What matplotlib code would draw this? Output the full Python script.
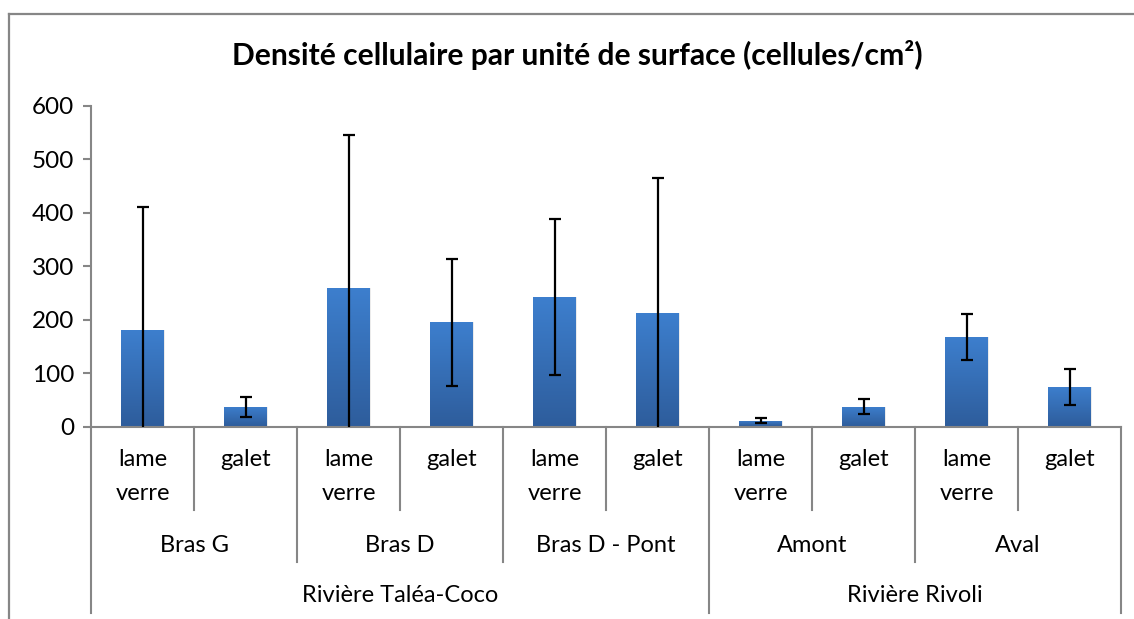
import numpy as np
import matplotlib
matplotlib.use("Agg")
import matplotlib.pyplot as plt
from matplotlib.patches import Rectangle
from matplotlib.lines import Line2D
from matplotlib.colors import LinearSegmentedColormap
from matplotlib.transforms import blended_transform_factory

plt.rcParams['font.family'] = ['Lato', 'DejaVu Sans']

# Data
supports = ["lame\nverre", "galet"] * 5
stations = ["Bras G", "Bras D", "Bras D - Pont", "Amont", "Aval"]
rivers = ["Rivière Taléa-Coco", "Rivière Rivoli"]
stations_per_river = [3, 2]
densite = [180, 37, 260, 195, 242, 213, 11, 37, 167, 74]
erreur = [231, 19, 285, 119, 146, 253, 4, 14, 43, 33]
title = "Densité cellulaire par unité de surface (cellules/cm²)"
yticks = [0, 100, 200, 300, 400, 500, 600]

W, H = 1134, 619
fig = plt.figure(figsize=(W / 100, H / 100), dpi=100)

def fy(py):
    return (H - py) / H

ax_left, ax_right = 91, 1121
ax_top, ax_bottom = 106, 426.5
ax = fig.add_axes([ax_left / W, fy(ax_bottom), (ax_right - ax_left) / W,
                   (ax_bottom - ax_top) / H])

grey = "#868686"
n = len(densite)
x = np.arange(n)

# Bars with vertical gradient
cmap = LinearSegmentedColormap.from_list("bar", ["#2E5D9C", "#3D7FCE"])
grad = np.linspace(0, 1, 256).reshape(-1, 1)
bar_w = 0.41
for xi, v in zip(x, densite):
    sh = Rectangle((xi - bar_w / 2 + 0.015, 0), bar_w, v, facecolor="#000000",
                   alpha=0.08, edgecolor="none", zorder=1)
    ax.add_patch(sh)
    rect = Rectangle((xi - bar_w / 2, 0), bar_w, v, facecolor="none",
                     edgecolor="none", zorder=2)
    ax.add_patch(rect)
    im = ax.imshow(grad, cmap=cmap, origin="lower", aspect="auto",
                   extent=(xi - bar_w / 2, xi + bar_w / 2, 0, v), zorder=2)
    im.set_clip_path(rect)

ax.set_xlim(-0.5, n - 0.5)
ax.set_ylim(0, 600)

ax.errorbar(x, densite, yerr=erreur, fmt="none", ecolor="black",
            elinewidth=1.6, capsize=4.3, capthick=1.6, zorder=3)

# Axes styling
for s in ["top", "right"]:
    ax.spines[s].set_visible(False)
for s in ["left", "bottom"]:
    ax.spines[s].set_color(grey)
    ax.spines[s].set_linewidth(1.5)
ax.set_yticks(yticks)
ax.tick_params(axis="y", length=6, width=1.5, color=grey, labelsize=17.5,
               pad=6, labelcolor="black")
ax.set_xticks([])

# Multi-level category axis
tr = blended_transform_factory(ax.transData, fig.transFigure)

def vline(xd, y_end):
    fig.add_artist(Line2D([xd, xd], [fy(ax_bottom), fy(y_end)], transform=tr,
                          color=grey, lw=1.5, clip_on=False))

vline(-0.5, 613)
vline(n - 0.5, 613)
for b in [0.5, 2.5, 4.5, 6.5, 8.5]:
    vline(b, 510)
for b in [1.5, 3.5, 7.5]:
    vline(b, 562)
vline(5.5, 613)

label_fs = 17
for xi, lab in zip(x, supports):
    for j, line in enumerate(lab.split("\n")):
        fig.text(xi, fy(460 + 33 * j), line, transform=tr, ha="center",
                 va="center", fontsize=label_fs)

for i, st in enumerate(stations):
    fig.text(2 * i + 0.5, fy(545), st, transform=tr, ha="center",
             va="center", fontsize=label_fs)

start = 0
for rv, k in zip(rivers, stations_per_river):
    c = start + k - 0.5
    fig.text(c, fy(596), rv, transform=tr, ha="center", va="center",
             fontsize=label_fs)
    start += 2 * k

# Title
fig.text(577 / W, fy(55), title, ha="center", va="center", fontsize=21.6,
         fontweight="bold")

# Chart frame
fig.add_artist(Line2D([9 / W, 1.0], [fy(14), fy(14)], color=grey, lw=1.6))
fig.add_artist(Line2D([9 / W, 9 / W], [fy(14), 0], color=grey, lw=1.6))

fig.savefig("out.png", dpi=100)
